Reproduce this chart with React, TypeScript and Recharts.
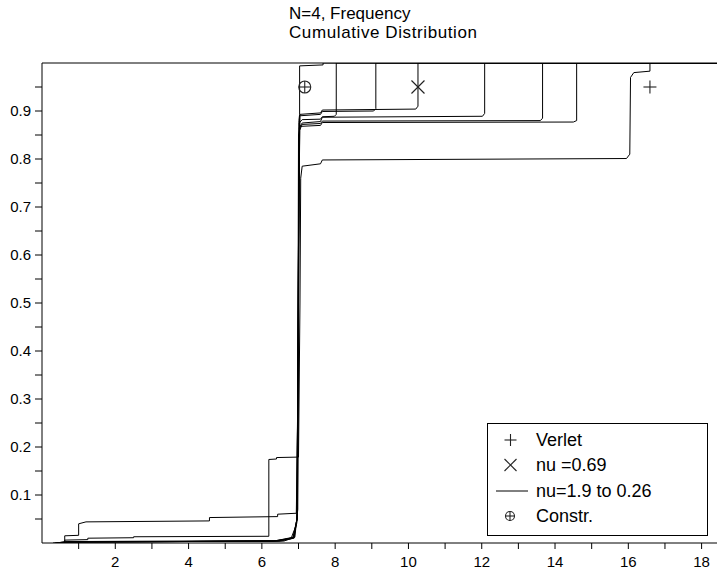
import React from 'react'
import {
  ComposedChart,
  Line,
  Scatter,
  XAxis,
  YAxis,
  ReferenceLine,
  Legend,
} from 'recharts'

const FONT = '"Liberation Sans", Arial, Helvetica, sans-serif'

// axis ticks: every integer on x, every 0.05 on y; labels only on the majors
const xTicks = [1, 2, 3, 4, 5, 6, 7, 8, 9, 10, 11, 12, 13, 14, 15, 16, 17, 18]
const xLabels = [2, 4, 6, 8, 10, 12, 14, 16, 18]
const yTicks = [
  0.05, 0.1, 0.15, 0.2, 0.25, 0.3, 0.35, 0.4, 0.45, 0.5, 0.55, 0.6, 0.65, 0.7,
  0.75, 0.8, 0.85, 0.9, 0.95,
]
const yLabels = [0.1, 0.2, 0.3, 0.4, 0.5, 0.6, 0.7, 0.8, 0.9]

// cumulative distributions, [frequency, fraction]
const constr = [
  [0.35, 0], [0.6, 0.002], [6.3, 0.004], [6.8, 0.01], [6.95, 0.04], [6.99, 0.4],
  [7.01, 0.88], [7.03, 0.893], [7.03, 0.994], [7.67, 0.996], [7.67, 1], [18.42, 1],
]
const nu190 = [
  [0.4, 0], [0.7, 0.003], [6.4, 0.005], [6.85, 0.012], [6.96, 0.05], [6.99, 0.5],
  [7.02, 0.875], [7.1, 0.882], [7.6, 0.883], [7.65, 0.888], [7.98, 0.889],
  [8.03, 0.893], [8.03, 1], [18.42, 1],
]
const nu120 = [
  [0.45, 0], [0.8, 0.002], [6.5, 0.004], [6.88, 0.01], [6.97, 0.06], [7.0, 0.6],
  [7.03, 0.89], [7.6, 0.893], [7.65, 0.899], [9.05, 0.9], [9.11, 0.905],
  [9.11, 1], [18.42, 1],
]
const nu069 = [
  [0.5, 0], [0.9, 0.002], [6.6, 0.004], [6.9, 0.012], [6.98, 0.07], [7.01, 0.7],
  [7.04, 0.893], [7.6, 0.896], [7.65, 0.902], [10.2, 0.904], [10.26, 0.91],
  [10.26, 1], [18.42, 1],
]
const nu050 = [
  [0.3, 0], [0.65, 0.002], [6.35, 0.004], [6.85, 0.01], [6.96, 0.05], [6.99, 0.5],
  [7.02, 0.865], [7.1, 0.875], [7.6, 0.878], [7.65, 0.887], [12.02, 0.889],
  [12.08, 0.895], [12.08, 1], [18.42, 1],
]
const nu036 = [
  [0.4, 0], [0.7, 0.002], [6.45, 0.004], [6.87, 0.012], [6.97, 0.05], [7.0, 0.5],
  [7.03, 0.86], [7.1, 0.872], [7.6, 0.874], [7.65, 0.879], [13.6, 0.88],
  [13.66, 0.885], [13.66, 1], [18.42, 1],
]
const nu026 = [
  [0.5, 0], [0.62, 0.001], [0.62, 0.015], [1.0, 0.016], [1.0, 0.04], [1.2, 0.044],
  [4.57, 0.046], [4.57, 0.053], [6.43, 0.055], [6.43, 0.06], [6.94, 0.062],
  [6.98, 0.3], [7.0, 0.85], [7.05, 0.868], [7.6, 0.87], [7.65, 0.876],
  [14.5, 0.877], [14.59, 0.88], [14.59, 1], [18.42, 1],
]
const verlet = [
  [0.55, 0], [0.62, 0.002], [0.62, 0.006], [1.25, 0.007], [1.25, 0.01],
  [2.5, 0.011], [2.5, 0.013], [6.19, 0.014], [6.19, 0.174], [6.4, 0.175],
  [6.4, 0.178], [7.0, 0.179], [7.04, 0.5], [7.06, 0.76], [7.1, 0.785],
  [7.6, 0.79], [7.65, 0.798], [15.95, 0.801], [16.04, 0.81], [16.06, 0.97],
  [16.15, 0.98], [16.59, 0.983], [16.59, 1], [18.42, 1],
]

// symbol positions
const verletMark = [[16.59, 0.95]]
const nu069Mark = [[10.26, 0.95]]
const constrMark = [[7.17, 0.95]]

const curves = [constr, nu190, nu120, nu069, nu050, nu036, nu026, verlet]

const toPoints = (arr: number[][]) => arr.map(([x, y]) => ({ x, y }))

const Plus = ({ cx, cy, r = 6.5 }: { cx: number; cy: number; r?: number }) => (
  <g stroke="#222" strokeWidth={1.1} fill="none">
    <line x1={cx - r} y1={cy} x2={cx + r} y2={cy} />
    <line x1={cx} y1={cy - r} x2={cx} y2={cy + r} />
  </g>
)

const Cross = ({ cx, cy, r = 6.5 }: { cx: number; cy: number; r?: number }) => (
  <g stroke="#222" strokeWidth={1.1} fill="none">
    <line x1={cx - r} y1={cy - r} x2={cx + r} y2={cy + r} />
    <line x1={cx - r} y1={cy + r} x2={cx + r} y2={cy - r} />
  </g>
)

const CirclePlus = ({ cx, cy, r = 6 }: { cx: number; cy: number; r?: number }) => (
  <g stroke="#222" strokeWidth={1.1} fill="none">
    <circle cx={cx} cy={cy} r={r} />
    <line x1={cx - r} y1={cy} x2={cx + r} y2={cy} />
    <line x1={cx} y1={cy - r} x2={cx} y2={cy + r} />
  </g>
)

const legendRows = [
  { label: 'Verlet', kind: 'plus', top: 16 },
  { label: 'nu =0.69', kind: 'cross', top: 41 },
  { label: 'nu=1.9 to 0.26', kind: 'line', top: 67 },
  { label: 'Constr.', kind: 'circle', top: 92 },
]

const LegendBox = () => (
  <div
    style={{
      width: 221,
      height: 113,
      boxSizing: 'border-box',
      border: '1px solid #000',
      background: '#fff',
      position: 'relative',
      fontFamily: FONT,
      fontSize: 18,
      color: '#000',
    }}
  >
    {legendRows.map((row) => (
      <div
        key={row.label}
        style={{
          position: 'absolute',
          left: 0,
          top: row.top - 12,
          height: 24,
          display: 'flex',
          alignItems: 'center',
          whiteSpace: 'nowrap',
        }}
      >
        <svg width={48} height={24}>
          {row.kind === 'plus' && <Plus cx={22.5} cy={12} r={6} />}
          {row.kind === 'cross' && <Cross cx={22.5} cy={12} r={6} />}
          {row.kind === 'line' && (
            <line x1={8} y1={12} x2={40} y2={12} stroke="#000" strokeWidth={1} />
          )}
          {row.kind === 'circle' && <CirclePlus cx={22} cy={12} r={4.5} />}
        </svg>
        <span>{row.label}</span>
      </div>
    ))}
  </div>
)

export default function App() {
  return (
    <div style={{ position: 'absolute', left: 0, top: 0, width: 717, height: 574, background: '#fff' }}>
      <svg
        width={717}
        height={50}
        style={{ position: 'absolute', left: 0, top: 0 }}
        fontFamily={FONT}
        fontSize={17}
      >
        <text x={289} y={19} fill="#000">N=4, Frequency</text>
        <text x={289} y={38} fill="#000" textLength={188} lengthAdjust="spacing">
          Cumulative Distribution
        </text>
      </svg>
      <ComposedChart
        width={717}
        height={574}
        margin={{ top: 63, right: 0, bottom: 0, left: 0 }}
        style={{ position: 'absolute', left: 0, top: 0 }}
      >
        <XAxis
          dataKey="x"
          type="number"
          domain={[0, 18.42]}
          allowDataOverflow
          ticks={xTicks}
          interval={0}
          height={31}
          tickSize={6}
          tickMargin={7}
          stroke="#000"
          tick={{ fill: '#000', fontSize: 15, fontFamily: FONT }}
          tickFormatter={(v: number) => (xLabels.includes(v) ? String(v) : '')}
        />
        <YAxis
          dataKey="y"
          type="number"
          domain={[0, 1]}
          allowDataOverflow
          ticks={yTicks}
          interval={0}
          width={42}
          tickSize={7}
          tickMargin={4}
          stroke="#000"
          tick={{ fill: '#000', fontSize: 15, fontFamily: FONT }}
          tickFormatter={(v: number) => (yLabels.includes(v) ? v.toFixed(1) : '')}
        />
        <ReferenceLine y={1} stroke="#000" strokeWidth={1} ifOverflow="visible" />
        {curves.map((c, i) => (
          <Line
            key={i}
            data={toPoints(c)}
            dataKey="y"
            type="linear"
            stroke="#000"
            strokeWidth={1}
            dot={false}
            activeDot={false}
            isAnimationActive={false}
            legendType="none"
          />
        ))}
        <Scatter
          data={toPoints(verletMark)}
          dataKey="y"
          isAnimationActive={false}
          shape={(p: any) => <Plus cx={p.cx} cy={p.cy} />}
        />
        <Scatter
          data={toPoints(nu069Mark)}
          dataKey="y"
          isAnimationActive={false}
          shape={(p: any) => <Cross cx={p.cx} cy={p.cy} />}
        />
        <Scatter
          data={toPoints(constrMark)}
          dataKey="y"
          isAnimationActive={false}
          shape={(p: any) => <CirclePlus cx={p.cx} cy={p.cy} />}
        />
        <Legend
          layout="horizontal"
          verticalAlign="middle"
          align="center"
          content={() => <LegendBox />}
          wrapperStyle={{ left: 487, top: 423, width: 221, height: 113 }}
        />
      </ComposedChart>
    </div>
  )
}
